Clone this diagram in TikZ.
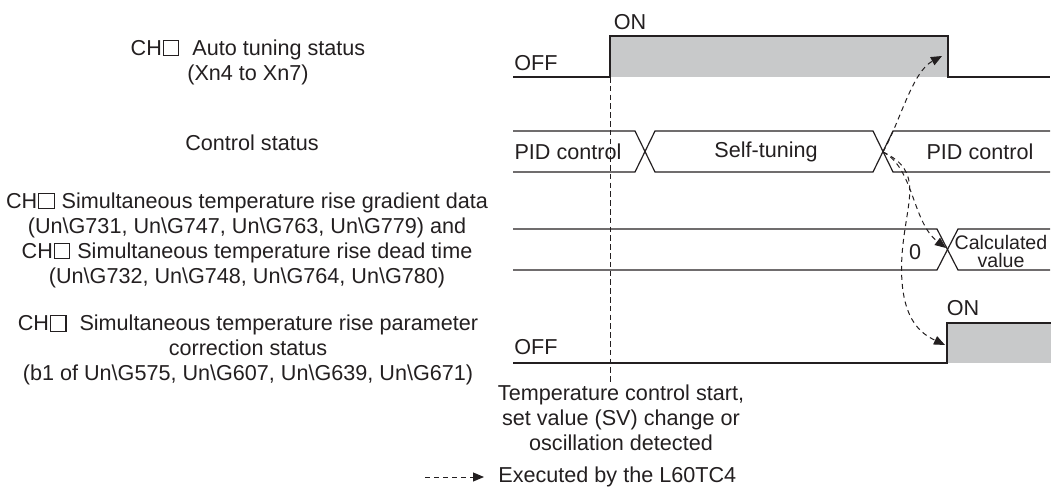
\documentclass[tikz,border=0pt]{standalone}
\usepackage{fontspec}
\setmainfont{Liberation Sans}
\newcommand{\chbox}{{\setlength{\fboxsep}{0pt}\setlength{\fboxrule}{0.55pt}%
  \kern0.5pt\fbox{\rule{0pt}{0.66em}\rule{0.66em}{0pt}}\kern0.5pt}}
\usetikzlibrary{arrows.meta,positioning}
\definecolor{inkgray}{HTML}{231F20}
\definecolor{fillgray}{HTML}{C8C9CA}

\begin{document}
\begin{tikzpicture}[
    x=0.5pt, y=-0.5pt,
    sig/.style={draw=inkgray, line width=0.6pt},
    onband/.style={fill=fillgray, draw=none},
    sigtext/.style={font=\fontsize{10.8}{12.5}\selectfont, text=inkgray, inner sep=0pt},
    rowlabel/.style={sigtext, align=center},
    smalltext/.style={font=\fontsize{9.8}{9}\selectfont, text=inkgray, inner sep=0pt, align=center},
    exec/.style={draw=inkgray, line width=0.5pt, dash pattern=on 2.5pt off 2pt,
      -{Triangle[length=5.5pt,width=4.5pt]}},
    trigger/.style={draw=inkgray, line width=0.5pt, dash pattern=on 2.8pt off 1.6pt},
  ]
  \useasboundingbox (0,0) rectangle (1051,488);

  % =================== Row labels ===================
  \node[rowlabel] (lab1) at (248,62) {CH\chbox~~Auto tuning status\\(Xn4 to Xn7)};
  \node[rowlabel] (lab2) at (252,143) {Control status};
  \node[rowlabel] (lab3) at (247,240) {CH\chbox\ Simultaneous temperature rise gradient data\\
    (Un\textbackslash G731, Un\textbackslash G747, Un\textbackslash G763, Un\textbackslash G779) and\\
    CH\chbox\ Simultaneous temperature rise dead time\\
    (Un\textbackslash G732, Un\textbackslash G748, Un\textbackslash G764, Un\textbackslash G780)};
  \node[rowlabel] (lab4) at (248,350) {CH\chbox~~Simultaneous temperature rise parameter\\
    correction status\\
    (b1 of Un\textbackslash G575, Un\textbackslash G607, Un\textbackslash G639, Un\textbackslash G671)};

  % =================== Auto tuning status ===================
  \fill[onband] (610,36) rectangle (948,77);
  \draw[sig] (513,77) -- (610,77) -- (610,36) -- (948,36) -- (948,77) -- (1050,77);
  \node[sigtext] (off1) at (536,63) {OFF};
  \node[sigtext] (on1) at (630,22) {ON};
  \coordinate (rise1) at (610,77);
  \coordinate (fall1) at (942,56);

  % =================== Control status ===================
  \draw[sig] (513,131) -- (635,131) -- (655,172) -- (873,172) -- (893,131) -- (1050,131);
  \draw[sig] (513,172) -- (635,172) -- (655,131) -- (873,131) -- (893,172) -- (1050,172);
  \node[sigtext] (pid1) at (568,152) {PID control};
  \node[sigtext] (self) at (766,152) {Self-tuning};
  \node[sigtext] (pid2) at (980,152) {PID control};
  \coordinate (cx2) at (883,152);

  % =================== Gradient data / dead time ===================
  \draw[sig] (513,229) -- (937,229) -- (958,270) -- (1050,270);
  \draw[sig] (513,270) -- (937,270) -- (958,229) -- (1050,229);
  \node[sigtext] (zero) at (915,252) {0};
  \node[smalltext] (calc) at (1001,251) {Calculated\\value};
  \coordinate (cx3) at (946,248);

  % =================== Parameter correction status ===================
  \fill[onband] (947,323) rectangle (1051,363);
  \draw[sig] (513,363) -- (947,363) -- (947,323) -- (1051,323);
  \node[sigtext] (off4) at (536,347) {OFF};
  \node[sigtext] (on4) at (963,308) {ON};
  \coordinate (rise4) at (945,345);

  % =================== Trigger ===================
  \node[rowlabel] (trig) at (621,418) {Temperature control start,\\set value (SV) change or\\oscillation detected};
  \draw[trigger] (rise1) -- (rise1 |- trig.north);

  % Executed by the module
  \draw[exec] (cx2) .. controls (900,122) and (912,72) .. (fall1);
  \draw[exec] (cx2) .. controls (914,168) and (912,222) .. (cx3);
  \draw[exec] (cx2) .. controls (925,172) and (906,200) .. (902,255)
    .. controls (898,320) and (922,334) .. (rise4);

  % =================== Legend ===================
  \node[sigtext, anchor=west] (legtxt) at (498,477) {Executed by the L60TC4};
  \coordinate (legstart) at (425,477);
  \draw[exec] (legstart) -- ([xshift=-7pt]legtxt.west);

\end{tikzpicture}
\end{document}
